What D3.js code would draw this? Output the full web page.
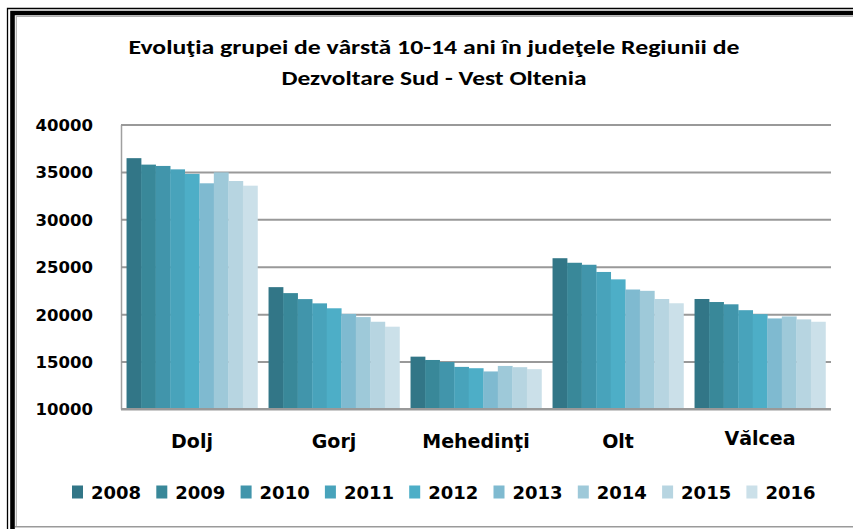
<!DOCTYPE html>
<html>
<head>
<meta charset="utf-8">
<script src="https://cdn.jsdelivr.net/npm/d3@7"></script>
<style>
  body { margin: 0; background: #fff; }
  svg { display: block; }
  .lbl { font-family: "DejaVu Sans", Verdana, sans-serif; font-weight: bold; fill: #000; }
  .title { font-family: Carlito, "Liberation Sans Narrow", "Open Sans", sans-serif; font-weight: bold; fill: #000; }
</style>
</head>
<body>
<div id="chart"></div>
<script>
var width = 853,
    height = 529;

// judete
var counties = ["Dolj", "Gorj", "Mehedinţi", "Olt", "Vălcea"];
var years = ["2008", "2009", "2010", "2011", "2012", "2013", "2014", "2015", "2016"];

// values, one array per year (Dolj, Gorj, Mehedinti, Olt, Valcea)
var y2008 = [36450, 22850, 15520, 25900, 21600];
var y2009 = [35770, 22220, 15170, 25420, 21280];
var y2010 = [35630, 21590, 14960, 25210, 21040];
var y2011 = [35270, 21140, 14440, 24450, 20420];
var y2012 = [34790, 20620, 14300, 23670, 20000];
var y2013 = [33800, 20030, 13960, 22600, 19550];
var y2014 = [34950, 19690, 14540, 22460, 19760];
var y2015 = [34040, 19200, 14410, 21600, 19450];
var y2016 = [33550, 18680, 14200, 21150, 19200];
var series = [y2008, y2009, y2010, y2011, y2012, y2013, y2014, y2015, y2016];

var yTicks = [10000, 15000, 20000, 25000, 30000, 35000, 40000];

var colors = ["#327687", "#398899", "#4195ab", "#48a3bb", "#4daec7",
              "#7fbad0", "#9ec9d9", "#b7d5e1", "#cbe0e9"];

var titleLines = ["Evoluţia grupei de vârstă 10-14 ani în judeţele Regiunii de",
                  "Dezvoltare Sud - Vest Oltenia"];

var plot = { left: 121, right: 831, top: 124.5, bottom: 409 };

var svg = d3.select("#chart").append("svg")
    .attr("width", width)
    .attr("height", height);

// frame (cut at the right edge like the picture)
svg.append("path").attr("d", "M7.5,529V8.5H853").attr("fill", "none").attr("stroke", "#000").attr("stroke-width", 1.3);
svg.append("path").attr("d", "M12.5,529V13H853").attr("fill", "none").attr("stroke", "#000").attr("stroke-width", 4.6);
svg.append("path").attr("d", "M16.3,527V16.3H853").attr("fill", "none").attr("stroke", "#b0b0b0").attr("stroke-width", 1.2);
svg.append("path").attr("d", "M15,526.8H853").attr("fill", "none").attr("stroke", "#9a9a9a").attr("stroke-width", 1.5);

// title, squeezed to the width of the original lines
var titleWidths = [611, 305];
svg.selectAll(".title")
    .data(titleLines)
  .enter().append("text")
    .attr("class", "title")
    .attr("x", 434)
    .attr("y", function(d, i) { return 54 + i * 31; })
    .attr("text-anchor", "middle")
    .style("font-size", "20px")
    .text(function(d) { return d; })
    .attr("textLength", function(d, i) { return titleWidths[i]; })
    .attr("lengthAdjust", "spacingAndGlyphs");

var x0 = d3.scaleBand()
    .domain(counties)
    .range([plot.left, plot.right])
    .paddingInner(0.078)
    .paddingOuter(0.039);

var x1 = d3.scaleBand()
    .domain(years)
    .range([0, x0.bandwidth()]);

var y = d3.scaleLinear()
    .domain([10000, 40000])
    .range([plot.bottom, plot.top]);

// y axis with gridlines
var yAxis = svg.append("g")
    .attr("transform", "translate(" + plot.left + ",0)")
    .call(d3.axisLeft(y).tickValues(yTicks).tickSize(-(plot.right - plot.left)).tickSizeOuter(0).tickPadding(28).tickFormat(d3.format("d")));

yAxis.select(".domain").attr("stroke", "#a0a0a0").attr("stroke-width", 1.5);
yAxis.selectAll(".tick line").attr("stroke", "#999").attr("stroke-width", 2);
yAxis.selectAll(".tick text")
    .attr("class", "lbl")
    .style("font-size", "16.5px")
    .attr("dy", "0.36em");

// bars
var groups = svg.selectAll(".county")
    .data(counties)
  .enter().append("g")
    .attr("class", "county")
    .attr("transform", function(d) { return "translate(" + x0(d) + ",0)"; });

groups.selectAll("rect")
    .data(function(d, ci) { return series.map(function(s, yi) { return { year: years[yi], value: s[ci], i: yi }; }); })
  .enter().append("rect")
    .attr("x", function(d) { return x1(d.year); })
    .attr("y", function(d) { return y(d.value); })
    .attr("width", x1.bandwidth() + 0.3)
    .attr("height", function(d) { return y(10000) - y(d.value); })
    .attr("fill", function(d) { return colors[d.i]; });

// bottom axis line
svg.append("line")
    .attr("x1", plot.left).attr("x2", plot.right)
    .attr("y1", plot.bottom).attr("y2", plot.bottom)
    .attr("stroke", "#999").attr("stroke-width", 2);

// category labels
svg.selectAll(".xlbl")
    .data(counties)
  .enter().append("text")
    .attr("class", "lbl")
    .attr("x", function(d) { return x0(d) + x0.bandwidth() / 2; })
    .attr("y", function(d) { return d === "Vălcea" ? 445 : 448; })
    .attr("text-anchor", "middle")
    .style("font-size", "19px")
    .text(function(d) { return d; });

// legend
var legend = svg.selectAll(".legend")
    .data(years)
  .enter().append("g")
    .attr("class", "legend")
    .attr("transform", function(d, i) { return "translate(" + (72 + i * 84.3) + ",492)"; });

legend.append("rect")
    .attr("x", 0).attr("y", -6.5)
    .attr("width", 11).attr("height", 13)
    .attr("fill", function(d, i) { return colors[i]; });

legend.append("text")
    .attr("class", "lbl")
    .attr("x", 19)
    .attr("y", 7)
    .style("font-size", "18px")
    .text(function(d) { return d; });
</script>
</body>
</html>
